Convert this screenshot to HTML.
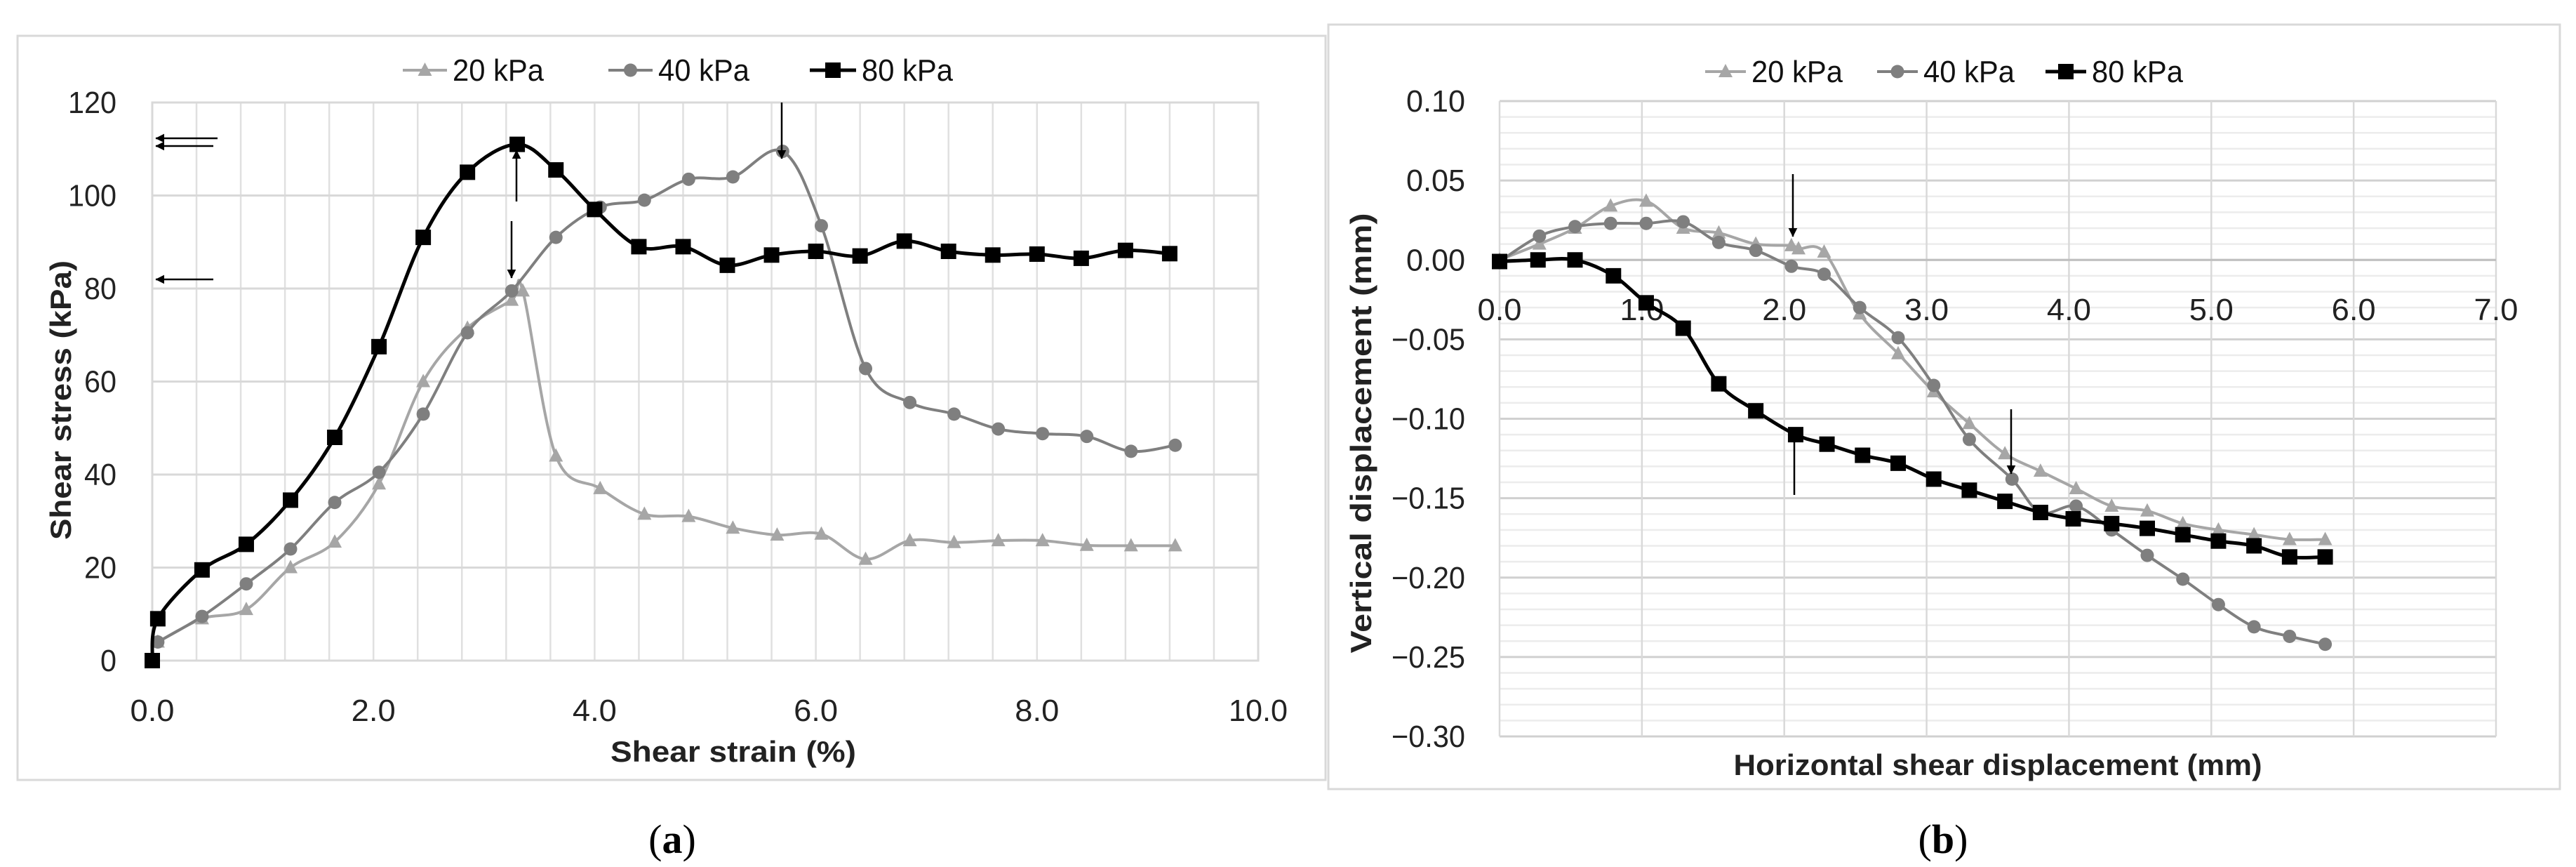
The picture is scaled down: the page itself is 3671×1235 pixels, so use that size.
<!DOCTYPE html>
<html><head><meta charset="utf-8"><style>
html,body{margin:0;padding:0;background:#fff;}
svg{display:block;}
text{font-family:"Liberation Sans",sans-serif;}
</style></head><body>
<svg id="fig" width="3671" height="1235" viewBox="0 0 3671 1235" xmlns="http://www.w3.org/2000/svg">
<defs>
<marker id="ah" viewBox="0 0 10 10" refX="9" refY="5" markerWidth="7" markerHeight="7" orient="auto-start-reverse" markerUnits="userSpaceOnUse" style="overflow:visible"><path d="M0,0 L10,5 L0,10 z" transform="scale(1.8) translate(-4.5,-2.2)" fill="#000"/></marker>
</defs>
<rect x="25" y="51" width="1864" height="1060" fill="none" stroke="#d9d9d9" stroke-width="3"/>
<rect x="1893" y="35" width="1755" height="1089" fill="none" stroke="#d9d9d9" stroke-width="3"/>
<g id="ga"></g>
<g id="gb"></g>
<text x="958" y="1215" font-size="58" text-anchor="middle" style="font-family:'Liberation Serif',serif">(<tspan font-weight="bold">a</tspan>)</text>
<text x="2769" y="1215" font-size="58" text-anchor="middle" style="font-family:'Liberation Serif',serif">(<tspan font-weight="bold">b</tspan>)</text>
</svg>
<script>
// ---- Chart A data ----
const aX20=[0.05,0.45,0.85,1.25,1.65,2.05,2.45,2.85,3.25,3.35,3.65,4.05,4.45,4.85,5.25,5.65,6.05,6.45,6.85,7.25,7.65,8.05,8.45,8.85,9.25];
const aY20=[4,9,11,20,25.5,38,60,71.5,77.5,79.5,44,37,31.5,31,28.5,27,27.2,21.8,25.8,25.4,25.8,25.8,24.8,24.7,24.7];
const aX40=[0.05,0.45,0.85,1.25,1.65,2.05,2.45,2.85,3.25,3.65,4.05,4.45,4.85,5.25,5.7,6.05,6.45,6.85,7.25,7.65,8.05,8.45,8.85,9.25];
const aY40=[4,9.5,16.5,24,34,40.5,53,70.5,79.5,91,97.5,99,103.5,104,109.5,93.5,62.8,55.5,53,49.8,48.8,48.2,45,46.3];
const aX80=[0,0.05,0.45,0.85,1.25,1.65,2.05,2.45,2.85,3.3,3.65,4.0,4.4,4.8,5.2,5.6,6.0,6.4,6.8,7.2,7.6,8.0,8.4,8.8,9.2];
const aY80=[0,9,19.5,25,34.5,48,67.5,91,105,111,105.5,97,89,89,85,87.2,88,87,90.2,88,87.2,87.4,86.5,88.2,87.5];
const aXTicks=["0.0","2.0","4.0","6.0","8.0","10.0"];
const aYTicks=["0","20","40","60","80","100","120"];
// ---- Chart B data ----
const bX20=[0,0.28,0.53,0.78,1.03,1.29,1.54,1.8,2.05,2.1,2.28,2.53,2.8,3.05,3.3,3.55,3.8,4.05,4.3,4.55,4.8,5.05,5.3,5.55,5.8];
const bY20=[0,0.01,0.02,0.034,0.037,0.02,0.017,0.01,0.009,0.007,0.005,-0.034,-0.059,-0.083,-0.103,-0.122,-0.133,-0.144,-0.155,-0.158,-0.166,-0.17,-0.173,-0.176,-0.176];
const bX40=[0,0.28,0.53,0.78,1.03,1.29,1.54,1.8,2.05,2.28,2.53,2.8,3.05,3.3,3.6,3.8,4.05,4.3,4.55,4.8,5.05,5.3,5.55,5.8];
const bY40=[-0.001,0.015,0.021,0.023,0.023,0.024,0.011,0.006,-0.004,-0.009,-0.03,-0.049,-0.079,-0.113,-0.138,-0.159,-0.155,-0.17,-0.186,-0.201,-0.217,-0.231,-0.237,-0.242];
const bX80=[0,0.27,0.53,0.8,1.03,1.29,1.54,1.8,2.08,2.3,2.55,2.8,3.05,3.3,3.55,3.8,4.03,4.3,4.55,4.8,5.05,5.3,5.55,5.8];
const bY80=[-0.001,0,0,-0.01,-0.027,-0.043,-0.078,-0.095,-0.11,-0.116,-0.123,-0.128,-0.138,-0.145,-0.152,-0.159,-0.163,-0.166,-0.169,-0.173,-0.177,-0.18,-0.187,-0.187];
const bXTicks=["0.0","1.0","2.0","3.0","4.0","5.0","6.0","7.0"];
const bYTicks=["0.10","0.05","0.00","\u22120.05","\u22120.10","\u22120.15","\u22120.20","\u22120.25","\u22120.30"];

const NS="http://www.w3.org/2000/svg";
function mk(parent,tag,attrs,txt){const e=document.createElementNS(NS,tag);for(const k in attrs)e.setAttribute(k,attrs[k]);if(txt!==undefined)e.textContent=txt;parent.appendChild(e);return e;}
function smooth(pts){let d="M"+pts[0][0]+","+pts[0][1];for(let i=0;i<pts.length-1;i++){const p0=pts[Math.max(0,i-1)],p1=pts[i],p2=pts[i+1],p3=pts[Math.min(pts.length-1,i+2)];const t=6;d+=" C"+(p1[0]+(p2[0]-p0[0])/t)+","+(p1[1]+(p2[1]-p0[1])/t)+" "+(p2[0]-(p3[0]-p1[0])/t)+","+(p2[1]-(p3[1]-p1[1])/t)+" "+p2[0]+","+p2[1];}return d;}
function marker(g,type,x,y,col){let m;
 if(type==="tri"){m=mk(g,"path",{d:`M${x},${y-11} L${x+10},${y+8} L${x-10},${y+8} Z`,fill:col});}
 else if(type==="circ"){m=mk(g,"circle",{cx:x,cy:y,r:9.5,fill:col});}
 else {m=mk(g,"rect",{x:x-11,y:y-11,width:22,height:22,fill:col});}
 return m;}
function series(g,xs,ys,sx,sy,col,w,type,name){const pts=xs.map((v,i)=>[sx(v),sy(ys[i])]);
 const p=mk(g,"path",{d:smooth(pts),fill:"none",stroke:col,"stroke-width":w,"stroke-linejoin":"round"});
 
 
 pts.forEach((q,i)=>{const m=marker(g,type,q[0],q[1],col);
  
  });}
function legend(g,items,y){items.forEach(it=>{const lg=mk(g,"g",{});
 
 
 mk(lg,"line",{x1:it.x1,x2:it.x2,y1:y,y2:y,stroke:it.col,"stroke-width":it.w});
 marker(lg,it.type,(it.x1+it.x2)/2,y,it.col);
 mk(lg,"text",{x:it.x2+8,y:y+15,"font-size":44,fill:"#111",textLength:it.tl,lengthAdjust:"spacingAndGlyphs"},it.label);});}
function arrow(g,x1,y1,x2,y2,name){const a=mk(g,"line",{x1:x1,y1:y1,x2:x2,y2:y2,stroke:"#000","stroke-width":2.5,"marker-end":"url(#ah)"});
 
 }

// ===== Chart A =====
(function(){const g=document.getElementById("ga");
 const L=217,R=1793,T=146,B=941,xmax=10,ymax=120;
 const sx=v=>L+v/xmax*(R-L), sy=v=>B-v/ymax*(B-T);
 for(let i=0;i<=25;i++){const x=sx(i*0.4);mk(g,"line",{x1:x,x2:x,y1:T,y2:B,stroke:"#e0e0e0","stroke-width":2.5});}
 aYTicks.forEach((t,i)=>{const v=+t,y=sy(v);mk(g,"line",{x1:L,x2:R,y1:y,y2:y,stroke:"#d9d9d9","stroke-width":3});
  const tx=mk(g,"text",{x:166,y:y+15,"font-size":44,"text-anchor":"end",fill:"#222",textLength:t.length*23,lengthAdjust:"spacingAndGlyphs"},t);
  
  });
 mk(g,"rect",{x:L,y:T,width:R-L,height:B-T,fill:"none",stroke:"#d9d9d9","stroke-width":3});
 aXTicks.forEach(t=>{const tx=mk(g,"text",{x:sx(+t),y:1027,"font-size":44,"text-anchor":"middle",fill:"#222",textLength:t.length*21,lengthAdjust:"spacingAndGlyphs"},t);
  
  });
 const xt=mk(g,"text",{x:1045,y:1085,"font-size":42,"font-weight":"bold","text-anchor":"middle",fill:"#222",textLength:350,lengthAdjust:"spacingAndGlyphs"},"Shear strain (%)");
 
 
 const yt=mk(g,"text",{x:0,y:0,"font-size":42,"font-weight":"bold","text-anchor":"middle",fill:"#222",transform:"translate(101,570) rotate(-90)",textLength:398,lengthAdjust:"spacingAndGlyphs"},"Shear stress (kPa)");
 
 
 series(g,aX20,aY20,sx,sy,"#a6a6a6",4,"tri","series-20kpa");
 series(g,aX40,aY40,sx,sy,"#7f7f7f",4,"circ","series-40kpa");
 series(g,aX80,aY80,sx,sy,"#000",5,"sq","series-80kpa");
 legend(g,[{x1:574,x2:637,col:"#a6a6a6",w:4,type:"tri",label:"20 kPa",tl:130},{x1:867,x2:930,col:"#7f7f7f",w:4,type:"circ",label:"40 kPa",tl:130},{x1:1154,x2:1220,col:"#000",w:5,type:"sq",label:"80 kPa",tl:130}],100);
 arrow(g,310,197,222,197,"arrow-peak-80");
 arrow(g,304,208,222,208,"arrow-peak-40");
 arrow(g,304,398,222,398,"arrow-peak-20");
 arrow(g,736,287,736,214,"arrow-up-80");
 arrow(g,729,315,729,396,"arrow-down-20");
 arrow(g,1114,146,1114,226,"arrow-down-40");
})();

// ===== Chart B =====
(function(){const g=document.getElementById("gb");
 const L=2137,R=3557,T=144,B=1049,xmax=7,ymin=-0.3,ymaxv=0.1;
 const sx=v=>L+v/xmax*(R-L), sy=v=>T+(ymaxv-v)/(ymaxv-ymin)*(B-T);
 for(let i=0;i<=40;i++){const y=T+i*(B-T)/40;mk(g,"line",{x1:L,x2:R,y1:y,y2:y,stroke:i%5===0?"#d0d0d0":"#ececec","stroke-width":i%5===0?3:2.5});}
 bXTicks.forEach(t=>{const x=sx(+t);mk(g,"line",{x1:x,x2:x,y1:T,y2:B,stroke:"#d9d9d9","stroke-width":2.5});});
 mk(g,"line",{x1:L,x2:R,y1:sy(0),y2:sy(0),stroke:"#bfbfbf","stroke-width":3});
 bYTicks.forEach((t,i)=>{const y=T+i*(B-T)/8;
  const tx=mk(g,"text",{x:2088,y:y+15,"font-size":44,"text-anchor":"end",fill:"#222",textLength:t.length*21,lengthAdjust:"spacingAndGlyphs"},t);
  
  });
 bXTicks.forEach(t=>{const tx=mk(g,"text",{x:sx(+t),y:456,"font-size":44,"text-anchor":"middle",fill:"#222",textLength:t.length*21,lengthAdjust:"spacingAndGlyphs"},t);
  
  });
 const xt=mk(g,"text",{x:2847,y:1104,"font-size":42,"font-weight":"bold","text-anchor":"middle",fill:"#222",textLength:753,lengthAdjust:"spacingAndGlyphs"},"Horizontal shear displacement (mm)");
 
 
 const yt=mk(g,"text",{x:0,y:0,"font-size":42,"font-weight":"bold","text-anchor":"middle",fill:"#222",transform:"translate(1954,617) rotate(-90)",textLength:627,lengthAdjust:"spacingAndGlyphs"},"Vertical displacement (mm)");
 
 
 series(g,bX20,bY20,sx,sy,"#a6a6a6",4,"tri","series-20kpa");
 series(g,bX40,bY40,sx,sy,"#7f7f7f",4,"circ","series-40kpa");
 series(g,bX80,bY80,sx,sy,"#000",5,"sq","series-80kpa");
 legend(g,[{x1:2430,x2:2488,col:"#a6a6a6",w:4,type:"tri",label:"20 kPa",tl:130},{x1:2675,x2:2733,col:"#7f7f7f",w:4,type:"circ",label:"40 kPa",tl:130},{x1:2915,x2:2973,col:"#000",w:5,type:"sq",label:"80 kPa",tl:130}],102);
 arrow(g,2555,248,2555,337,"arrow-down-20");
 arrow(g,2866,583,2866,675,"arrow-down-40");
 arrow(g,2557,705,2557,609,"arrow-up-80");
})();
</script>
</body></html>
